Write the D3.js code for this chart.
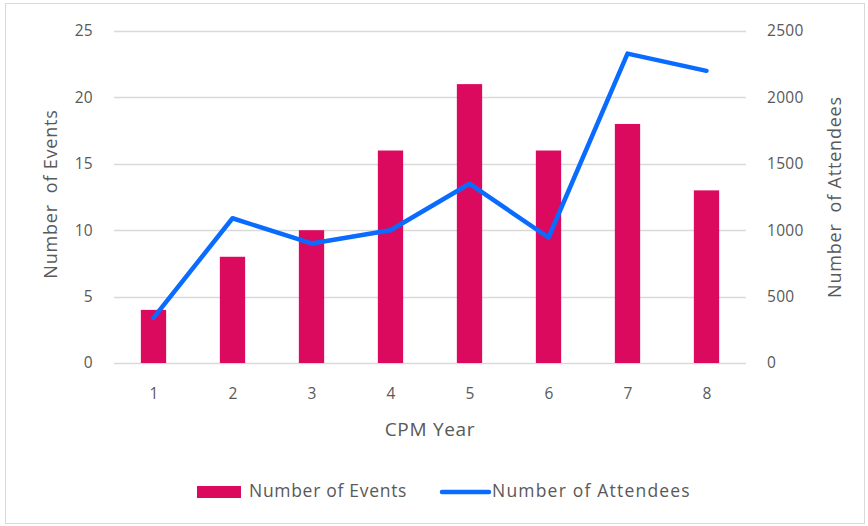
<!DOCTYPE html>
<html>
<head>
<meta charset="utf-8">
<script src="https://cdn.jsdelivr.net/npm/d3@7"></script>
<style>
  body { margin: 0; background: #fff; }
  text { font-family: "Open Sans", "Noto Sans", sans-serif; fill: #595959; }
</style>
</head>
<body>
<script>
// data
var years = ["1", "2", "3", "4", "5", "6", "7", "8"];
var events = [4, 8, 10, 16, 21, 16, 18, 13];
var attendees = [340, 1090, 900, 1000, 1350, 945, 2330, 2200];
var leftTicks = [0, 5, 10, 15, 20, 25];
var rightTicks = [0, 500, 1000, 1500, 2000, 2500];

var width = 868;
var height = 526;
// plot area edges (plotTop etc, "top" clashes with window.top)
var plotLeft = 114, plotRight = 746, plotTop = 31, plotBottom = 363;

var svg = d3.select("body").append("svg")
  .attr("width", width)
  .attr("height", height);

// chart frame
svg.append("rect")
  .attr("x", 5.5).attr("y", 3.5)
  .attr("width", 859).attr("height", 520)
  .attr("fill", "#fff")
  .attr("stroke", "#d9d9d9");

var xScale = d3.scaleBand().domain(years).range([plotLeft, plotRight]).paddingInner(0.68).paddingOuter(0.34);
var xPoint = d3.scalePoint().domain(years).range([plotLeft, plotRight]).padding(0.5);
var yLeft = d3.scaleLinear().domain([0, 25]).range([plotBottom, plotTop]);
var yRight = d3.scaleLinear().domain([0, 2500]).range([plotBottom, plotTop]);

// gridlines
svg.append("g")
  .selectAll("line")
  .data(leftTicks)
  .join("line")
  .attr("x1", plotLeft).attr("x2", plotRight)
  .attr("y1", function(d) { return Math.round(yLeft(d)) + 0.5; })
  .attr("y2", function(d) { return Math.round(yLeft(d)) + 0.5; })
  .attr("stroke", "#d9d9d9")
  .attr("stroke-width", 1.5);

function styleTicks(g) {
  g.select(".domain").remove();
  g.selectAll("text")
    .style("font-size", "15.5px")
    .style("letter-spacing", "0.3px")
    .style("fill", "#595959")
    .style("font-family", "'Open Sans', sans-serif");
}

// left axis
var yAxisL = d3.axisLeft(yLeft).tickValues(leftTicks).tickSize(0).tickPadding(21);
svg.append("g").attr("transform", "translate(" + plotLeft + ",0)").call(yAxisL).call(styleTicks);

// right axis
var yAxisR = d3.axisRight(yRight).tickValues(rightTicks).tickSize(0).tickPadding(21).tickFormat(d3.format("d"));
svg.append("g").attr("transform", "translate(" + plotRight + ",0)").call(yAxisR).call(styleTicks);

// bottom axis
var xAxis = d3.axisBottom(xPoint).tickSize(0).tickPadding(25);
svg.append("g").attr("transform", "translate(0," + plotBottom + ")").call(xAxis).call(styleTicks);

// bars
svg.append("g")
  .selectAll("rect")
  .data(events)
  .join("rect")
  .attr("x", function(d, i) { return xScale(years[i]); })
  .attr("width", xScale.bandwidth())
  .attr("y", function(d) { return yLeft(d); })
  .attr("height", function(d) { return plotBottom - yLeft(d); })
  .attr("fill", "#dc0a5e");

// line
var line = d3.line()
  .x(function(d, i) { return xPoint(years[i]); })
  .y(function(d) { return yRight(d); });

svg.append("path")
  .datum(attendees)
  .attr("d", line)
  .attr("fill", "none")
  .attr("stroke", "#0a6cff")
  .attr("stroke-width", 4.5)
  .attr("stroke-linejoin", "round")
  .attr("stroke-linecap", "round");

// axis titles (the original has two spaces after "Number")
svg.append("text")
  .attr("transform", "translate(57,194) rotate(-90)")
  .attr("text-anchor", "middle")
  .attr("xml:space", "preserve")
  .style("font-size", "18px")
  .style("letter-spacing", "0.8px")
  .text("Number  of Events");

svg.append("text")
  .attr("transform", "translate(841,197) rotate(-90)")
  .attr("text-anchor", "middle")
  .attr("xml:space", "preserve")
  .style("font-size", "18px")
  .style("letter-spacing", "0.8px")
  .text("Number  of Attendees");

svg.append("text")
  .attr("x", 430)
  .attr("y", 436)
  .attr("text-anchor", "middle")
  .style("font-size", "19px")
  .style("letter-spacing", "0.7px")
  .text("CPM Year");

// legend
var legend = svg.append("g");
legend.append("rect")
  .attr("x", 197).attr("y", 486)
  .attr("width", 44).attr("height", 12)
  .attr("fill", "#dc0a5e");
legend.append("text")
  .attr("x", 249).attr("y", 497)
  .style("font-size", "17.5px")
  .style("letter-spacing", "0.7px")
  .text("Number of Events");
legend.append("line")
  .attr("x1", 442).attr("x2", 489)
  .attr("y1", 492).attr("y2", 492)
  .attr("stroke", "#0a6cff")
  .attr("stroke-width", 4.5)
  .attr("stroke-linecap", "round");
legend.append("text")
  .attr("x", 492).attr("y", 497)
  .style("font-size", "17.5px")
  .style("letter-spacing", "1.2px")
  .text("Number of Attendees");
</script>
</body>
</html>
